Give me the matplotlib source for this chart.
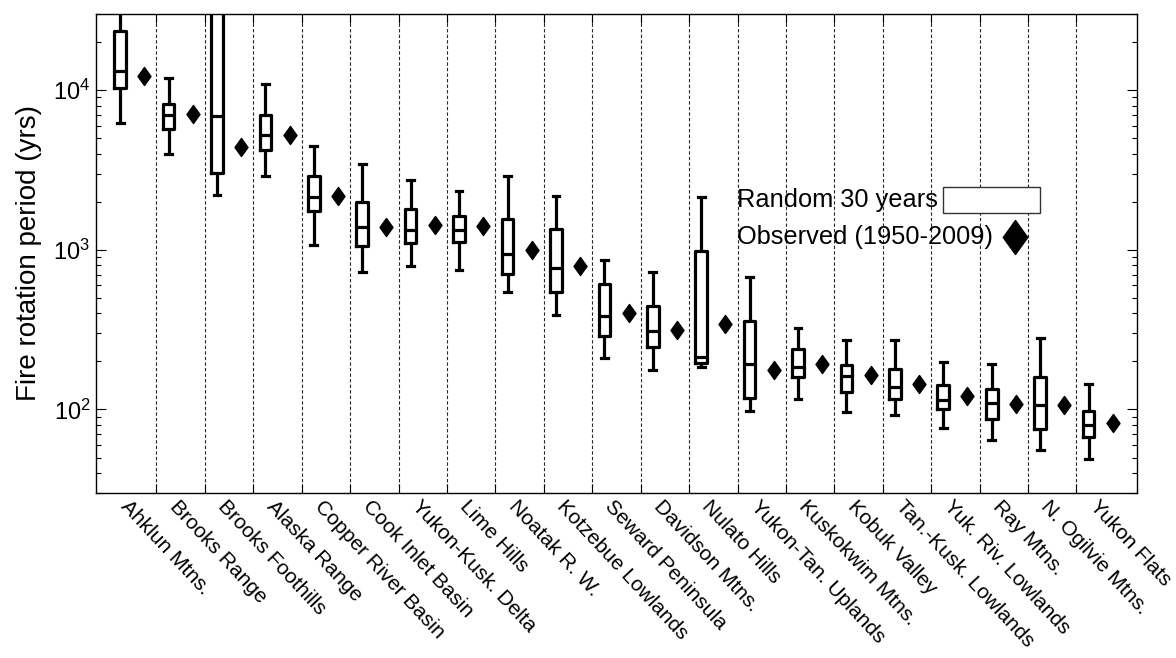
import numpy as np
import matplotlib
matplotlib.use("Agg")
import matplotlib.pyplot as plt
from matplotlib.path import Path
from matplotlib.patches import Rectangle
import matplotlib.transforms as mtransforms

plt.rcParams['font.family'] = ['Liberation Sans', 'DejaVu Sans']
plt.rcParams['mathtext.fontset'] = 'custom'
plt.rcParams['mathtext.rm'] = 'Liberation Sans'
plt.rcParams['mathtext.it'] = 'Liberation Sans:italic'
plt.rcParams['mathtext.bf'] = 'Liberation Sans:bold'

regions = ["Ahklun Mtns.", "Brooks Range", "Brooks Foothills", "Alaska Range",
           "Copper River Basin", "Cook Inlet Basin", "Yukon-Kusk. Delta", "Lime Hills",
           "Noatak R. W.", "Kotzebue Lowlands", "Seward Peninsula", "Davidson Mtns.",
           "Nulato Hills", "Yukon-Tan. Uplands", "Kuskokwim Mtns.", "Kobuk Valley",
           "Tan.-Kusk. Lowlands", "Yuk. Riv. Lowlands", "Ray Mtns.", "N. Ogilvie Mtns.",
           "Yukon Flats"]

# Random 30-year samples: box-plot statistics (years)
whisk_lo = [6270, 4000, 2190, 2920, 1075, 723, 796, 748, 541, 392, 209, 176,
            184, 98, 116, 97, 93, 77, 64, 56, 49]
q1 = [10250, 5750, 3020, 4200, 1745, 1053, 1107, 1127, 706, 546, 289, 247,
      196, 118, 160, 128, 117, 100, 87, 76, 67]
median = [13150, 6970, 6870, 5270, 2140, 1400, 1335, 1322, 944, 766, 386, 311,
          214, 193, 184, 162, 139, 114, 110, 107, 80]
q3 = [23600, 8250, 40000, 6970, 2895, 2008, 1807, 1623, 1570, 1355, 611, 446,
      980, 359, 238, 190, 180, 142, 134, 160, 98]
whisk_hi = [40000, 11950, 60000, 10860, 4470, 3430, 2740, 2330, 2920, 2160, 864, 723,
            2140, 679, 323, 273, 273, 198, 192, 282, 144]

# Observed fire rotation 1950-2009 (years)
observed = [12250, 7060, 4385, 5210, 2160, 1400, 1421, 1406, 1000, 788, 405, 314,
            342, 176, 192, 164, 145, 121, 109, 106, 82]

fig = plt.figure(figsize=(11.76, 6.58), dpi=100)
ax = fig.add_axes([0.0816, 0.2508, 0.8852, 0.7279])

n = len(regions)
pos = np.arange(n)
off = 0.25

# separators
for b in np.arange(n - 1) + 0.5:
    ax.axvline(b, color='0.15', lw=0.8, ls=(0, (3, 2)), zorder=1)

stats = []
for i in range(n):
    stats.append(dict(med=median[i], q1=q1[i], q3=q3[i],
                      whislo=whisk_lo[i], whishi=whisk_hi[i], fliers=[]))
lw = 2.3
ax.bxp(stats, positions=pos - off, widths=0.24, capwidths=0.14,
       showfliers=False, patch_artist=False,
       boxprops=dict(color='black', linewidth=lw),
       whiskerprops=dict(color='black', linewidth=lw, solid_capstyle='butt'),
       capprops=dict(color='black', linewidth=lw),
       medianprops=dict(color='black', linewidth=lw),
       manage_ticks=False)

diamond = Path([(0, 1), (0.72, 0), (0, -1), (-0.72, 0), (0, 1)],
               [Path.MOVETO, Path.LINETO, Path.LINETO, Path.LINETO, Path.CLOSEPOLY])
ax.plot(pos + off, observed, ls='none', marker=diamond, markersize=13,
        color='black', zorder=4)

ax.set_yscale('log')
ax.set_ylim(30, 30000)
ax.set_xlim(-0.75, n - 1 + 0.75)

ax.set_xticks(np.arange(n - 1) + 0.5)
ax.set_xticklabels([])
ax.tick_params(axis='x', which='major', direction='in', length=6.5, width=0.8,
               top=True, bottom=True)
ax.tick_params(axis='y', which='major', direction='in', length=7, width=0.8,
               left=True, right=True, labelsize=17, pad=4)
ax.tick_params(axis='y', which='minor', direction='in', length=3.5, width=0.8,
               left=True, right=True)
ax.set_yticks([100, 1000, 10000])
ax.set_yticklabels([r'$10^{2}$', r'$10^{3}$', r'$10^{4}$'])
for s in ax.spines.values():
    s.set_linewidth(1.0)

ax.set_ylabel('Fire rotation period (yrs)', fontsize=20, labelpad=8)

trans = mtransforms.blended_transform_factory(ax.transData, ax.transAxes) + \
    mtransforms.ScaledTranslation(-0.01, -0.04, fig.dpi_scale_trans)
for i, lab in enumerate(regions):
    ax.text(i, 0, lab, transform=trans, rotation=-47, rotation_mode='anchor',
            ha='left', va='top', fontsize=15)

# legend (drawn manually, MATLAB style)
ax.text(0.6158, 0.6117, 'Random 30 years', transform=ax.transAxes,
        fontsize=18.3, ha='left', va='center')
ax.text(0.6158, 0.5344, 'Observed (1950-2009)', transform=ax.transAxes,
        fontsize=18.3, ha='left', va='center')
ax.add_patch(Rectangle((0.8136, 0.5846), 0.0932, 0.0543, transform=ax.transAxes,
                       facecolor='white', edgecolor='0.2', lw=1.0, zorder=5))
ax.plot([0.8828], [0.5344], transform=ax.transAxes, marker=diamond,
        markersize=24.5, color='black', ls='none', zorder=5)

fig.savefig('out.png', dpi=100)
